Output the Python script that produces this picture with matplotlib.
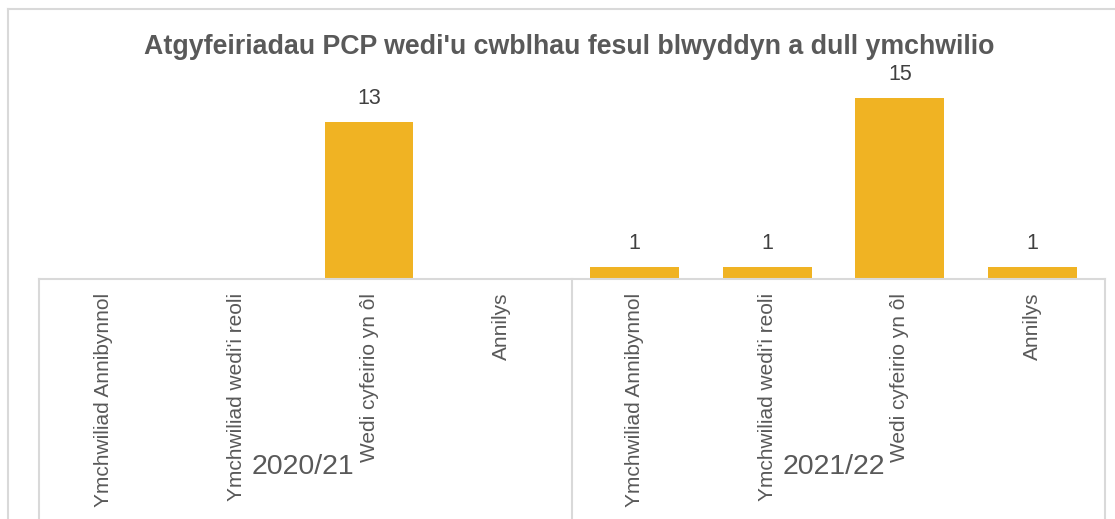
import matplotlib.pyplot as plt
from matplotlib.lines import Line2D

plt.rcParams['font.family'] = ['Liberation Sans', 'DejaVu Sans']

# data
years = ["2020/21", "2021/22"]
methods = ["Ymchwiliad Annibynnol", "Ymchwiliad wedi'i reoli", "Wedi cyfeirio yn ôl", "Annilys"]
values_2020 = [0, 0, 13, 0]
values_2021 = [1, 1, 15, 1]
title = "Atgyfeiriadau PCP wedi'u cwblhau fesul blwyddyn a dull ymchwilio"

W, H = 1115, 519
bar_color = "#F0B323"
text_color = "#595959"
grid_color = "#D9D9D9"

fig = plt.figure(figsize=(W / 100, H / 100), dpi=100)
ax_left, ax_right, ax_base, ax_top = 39, 1105, 279, 86
ax = fig.add_axes([ax_left / W, (H - ax_base) / H,
                   (ax_right - ax_left) / W, (ax_base - ax_top) / H])

all_values = values_2020 + values_2021
labels = methods + methods
x = list(range(len(all_values)))
ax.bar(x, all_values, width=0.67, color=bar_color)

for xi, v in zip(x, all_values):
    if v > 0:
        ax.annotate(str(v), (xi, v), xytext=(0, 17), textcoords="offset points",
                    ha="center", va="center", fontsize=15.5, color="#404040")

xmin, xmax = -0.487, 7.546
ax.set_xlim(xmin, xmax)
ax.set_ylim(0, 16)
ax.set_yticks([])
ax.set_xticks(x)
ax.set_xticklabels(labels, rotation=90, fontsize=15, color=text_color)
ax.tick_params(axis="x", length=0, pad=10)
for s in ["left", "right", "top"]:
    ax.spines[s].set_visible(False)
ax.spines["bottom"].set_color(grid_color)
ax.spines["bottom"].set_linewidth(1.5)

# group separators and year labels
axis_h = ax_base - ax_top
depth = -(H - ax_base) / axis_h
trans = ax.get_xaxis_transform()
for sep in [xmin, 3.53, xmax]:
    ax.add_line(Line2D([sep, sep], [0, depth], transform=trans, color=grid_color,
                       linewidth=1.5, clip_on=False))
for i, yr in enumerate(years):
    ax.text(i * 4 + 1.5, -(467 - ax_base) / axis_h, yr, transform=trans,
            ha="center", va="center", fontsize=20.5, color=text_color)

# outer chart border (top and left visible)
fig.add_artist(Line2D([8 / W, 8 / W], [0, 1 - 9 / H], transform=fig.transFigure,
                      color=grid_color, linewidth=1.5))
fig.add_artist(Line2D([8 / W, 1], [1 - 9 / H, 1 - 9 / H], transform=fig.transFigure,
                      color=grid_color, linewidth=1.5))

fig.text(569 / W, 1 - 47 / H, title, ha="center", va="center", fontsize=19.3,
         fontweight="bold", color=text_color)

fig.savefig("out.png", dpi=100)
